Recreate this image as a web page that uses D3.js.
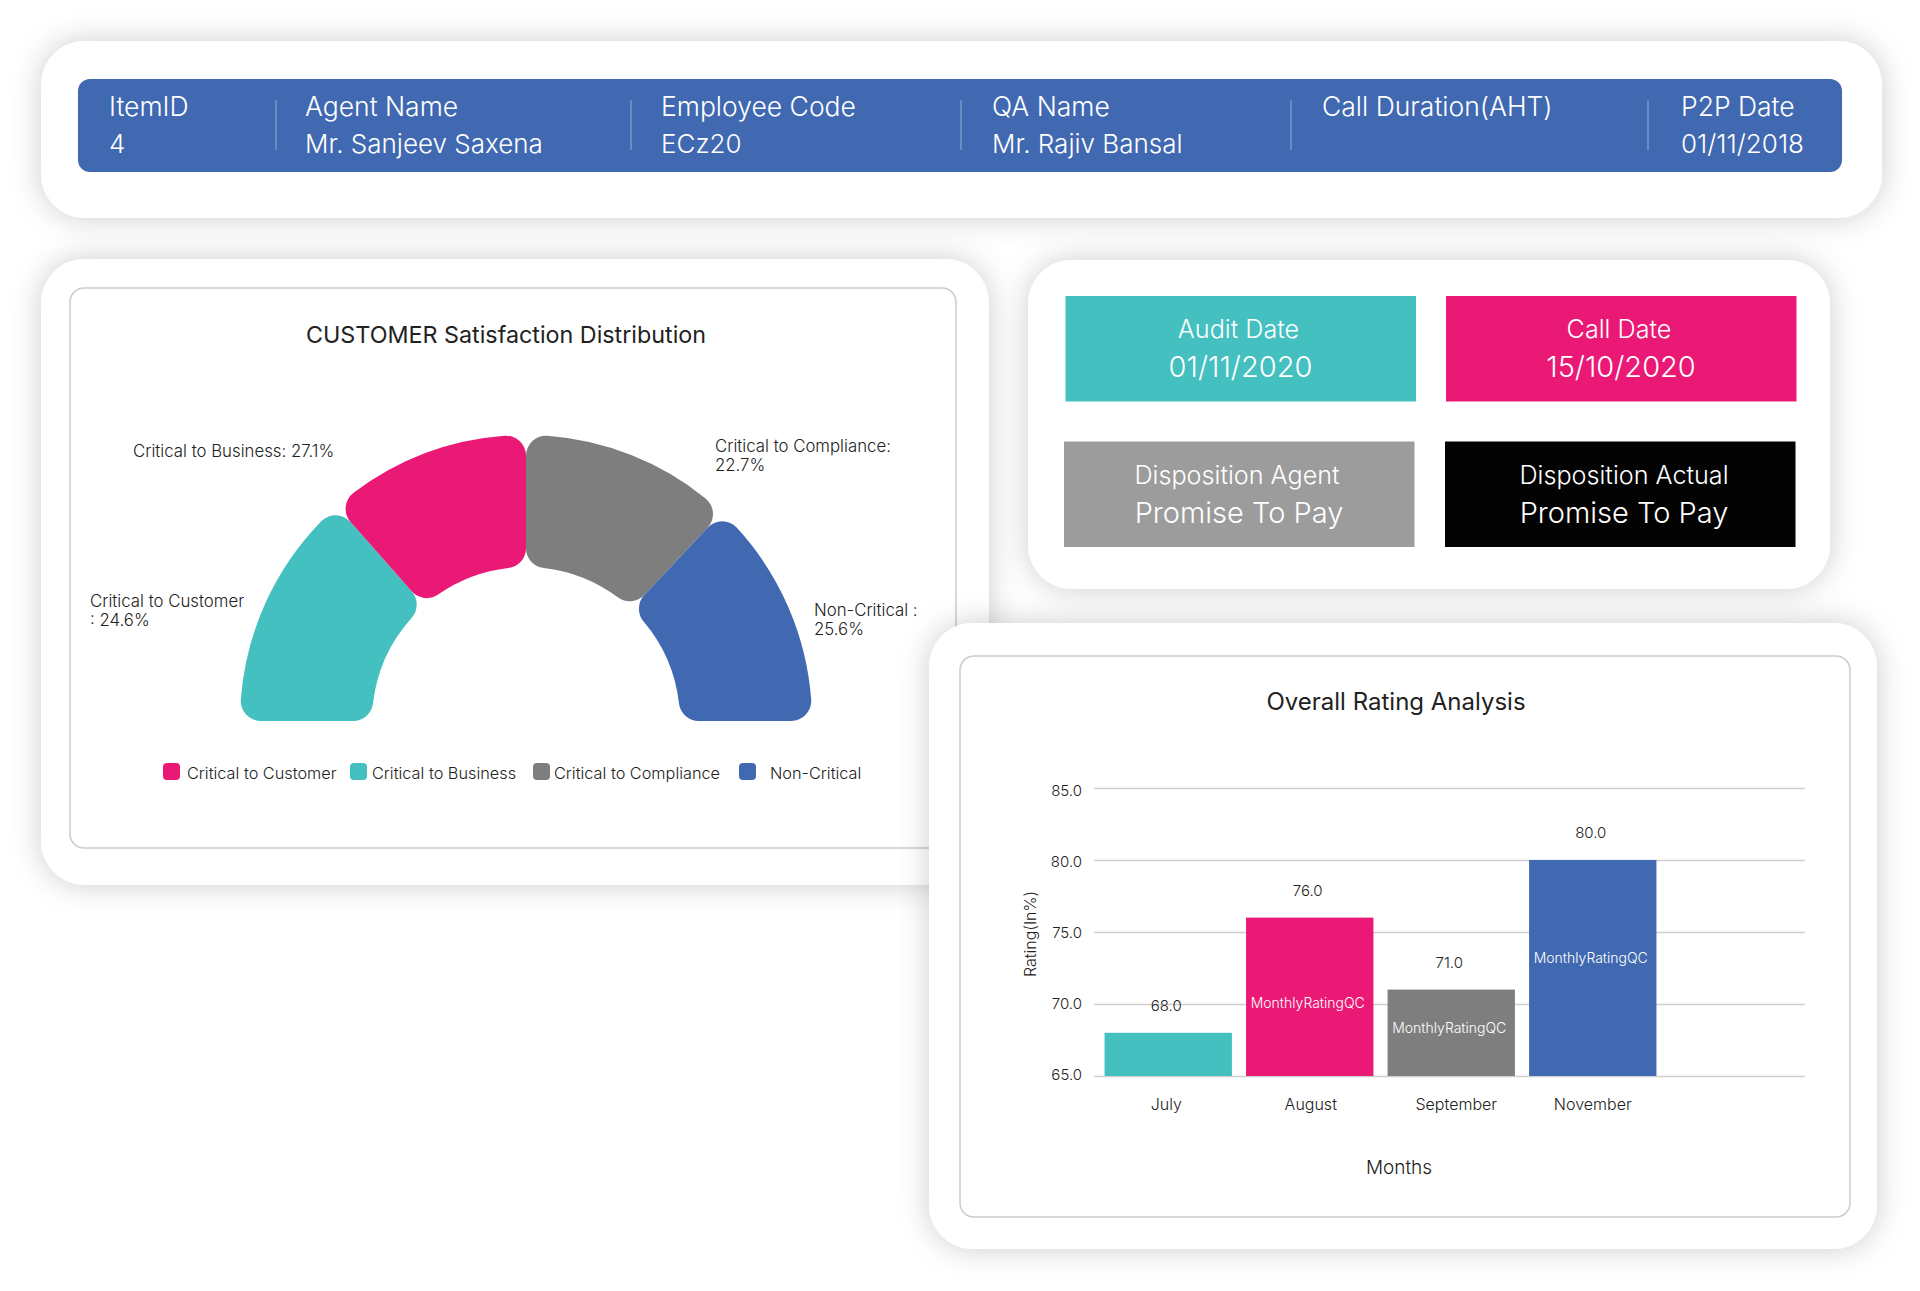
<!DOCTYPE html>
<html>
<head>
<meta charset="utf-8">
<script src="https://cdn.jsdelivr.net/npm/d3@7"></script>
<style>
  html, body { margin: 0; padding: 0; background: #fff; }
  svg { display: block; }
  text { font-family: Inter, "Open Sans", sans-serif; fill: #222; }
  .head text { fill: #fff; font-weight: 300; }
  .axis path { display: none; }
</style>
</head>
<body>
<div id="chart"></div>
<script>
// header strip
var headerLabels = ["ItemID", "Agent Name", "Employee Code", "QA Name", "Call Duration(AHT)", "P2P Date"];
var headerValues = ["4", "Mr. Sanjeev Saxena", "ECz20", "Mr. Rajiv Bansal", "", "01/11/2018"];

// date / disposition tiles
var tileLabels = ["Audit Date", "Call Date", "Disposition Agent", "Disposition Actual"];
var tileValues = ["01/11/2020", "15/10/2020", "Promise To Pay", "Promise To Pay"];

// gauge: printed percentages, and the share of the half ring each slice really takes up in the picture
var gaugeLabels = [["Critical to Customer", ": 24.6%"], ["Critical to Business: 27.1%"], ["Critical to Compliance:", "22.7%"], ["Non-Critical :", "25.6%"]];
var gaugeDrawnShare = [27, 23, 24, 26];
var legendNames = ["Critical to Customer", "Critical to Business", "Critical to Compliance", "Non-Critical"];

// bars
var months = ["July", "August", "September", "November"];
var ratings = [68, 76, 71, 80];
var ratingTicks = [65, 70, 75, 80, 85];

var teal = "#44c0c0", pink = "#e91975", gray = "#7e7e7e", blue = "#4169b1";

var svg = d3.select("#chart").append("svg")
  .attr("width", 1920)
  .attr("height", 1291);

var shadow = svg.append("defs").append("filter")
  .attr("id", "shadow")
  .attr("x", "-15%").attr("y", "-30%")
  .attr("width", "130%").attr("height", "160%");
shadow.append("feDropShadow")
  .attr("dx", 0).attr("dy", 0)
  .attr("stdDeviation", 15)
  .attr("flood-color", "#000")
  .attr("flood-opacity", 0.2);

function card(x, y, w, h) {
  svg.append("rect")
    .attr("x", x).attr("y", y)
    .attr("width", w).attr("height", h)
    .attr("rx", 44)
    .attr("fill", "#fff")
    .attr("filter", "url(#shadow)");
}

function frame(x, y, w, h) {
  svg.append("rect")
    .attr("x", x).attr("y", y)
    .attr("width", w).attr("height", h)
    .attr("rx", 14)
    .attr("fill", "none")
    .attr("stroke", "#ccc")
    .attr("stroke-width", 1.5);
}

// Header card
card(41, 41, 1841, 177);
var head = svg.append("g").attr("class", "head");
head.append("rect")
  .attr("x", 78).attr("y", 79)
  .attr("width", 1764).attr("height", 93)
  .attr("rx", 12)
  .attr("fill", blue);

var headX = [109, 305, 661, 992, 1322, 1681];
var dividerX = [276, 631, 961, 1291, 1648];

head.selectAll("line")
  .data(dividerX)
  .enter()
  .append("line")
  .attr("x1", d => d).attr("x2", d => d)
  .attr("y1", 100).attr("y2", 150)
  .attr("stroke", "#fff")
  .attr("stroke-opacity", 0.45);

head.selectAll("text.label")
  .data(headerLabels)
  .enter()
  .append("text")
  .attr("class", "label")
  .attr("x", (d, i) => headX[i])
  .attr("y", 116)
  .attr("font-size", 26.5)
  .text(d => d);

head.selectAll("text.value")
  .data(headerValues)
  .enter()
  .append("text")
  .attr("class", "value")
  .attr("x", (d, i) => headX[i])
  .attr("y", 153)
  .attr("font-size", 26)
  .text(d => d);

// Gauge card
card(41, 259, 948, 626);
frame(70, 288, 886, 560);

svg.append("text")
  .attr("x", 506).attr("y", 343)
  .attr("text-anchor", "middle")
  .attr("font-size", 23.3)
  .attr("font-weight", 400)
  .text("CUSTOMER Satisfaction Distribution");

var gauge = svg.append("g").attr("transform", "translate(526, 721)");

var pie = d3.pie()
  .sort(null)
  .startAngle(-Math.PI / 2)
  .endAngle(Math.PI / 2);

var arc = d3.arc()
  .innerRadius(154)
  .outerRadius(286)
  .cornerRadius(20);

gauge.selectAll("path")
  .data(pie(gaugeDrawnShare))
  .enter()
  .append("path")
  .attr("d", arc)
  .attr("fill", (d, i) => [teal, pink, gray, blue][i]);

// slice labels sit where the picture has them, not on a leader
var gaugeLabelX = [90, 133, 715, 814];
var gaugeLabelY = [607, 457, 452, 616];

gaugeLabels.forEach(function(lines, i) {
  lines.forEach(function(line, j) {
    svg.append("text")
      .attr("x", gaugeLabelX[i])
      .attr("y", gaugeLabelY[i] + j * 19)
      .attr("font-size", 16.8)
      .attr("font-weight", 300)
      .text(line);
  });
});

// legend colours run differently from the slices in the reference
var legendSwatchX = [163, 350, 533, 739];
var legendTextX = [187, 372, 554, 770];

svg.selectAll("rect.swatch")
  .data(legendNames)
  .enter()
  .append("rect")
  .attr("class", "swatch")
  .attr("x", (d, i) => legendSwatchX[i])
  .attr("y", 763)
  .attr("width", 17).attr("height", 17)
  .attr("rx", 4)
  .attr("fill", (d, i) => [pink, teal, gray, blue][i]);

svg.selectAll("text.legend")
  .data(legendNames)
  .enter()
  .append("text")
  .attr("class", "legend")
  .attr("x", (d, i) => legendTextX[i])
  .attr("y", 779)
  .attr("font-size", 16.3)
  .attr("font-weight", 300)
  .text(d => d);

// Tiles card
card(1028, 260, 802, 329);
var tileX = [1065.5, 1446, 1064, 1445];
var tileY = [296, 296, 441.5, 441.5];
var tileFill = [teal, pink, "#9c9c9c", "#030303"];
// text centre inside each tile, the black one runs right of the others
var tileLabelShift = [173, 173, 173, 179];
var tileValueShift = [175, 175, 175, 179];

var tiles = svg.append("g").attr("class", "head");
tileLabels.forEach(function(label, i) {
  tiles.append("rect")
    .attr("x", tileX[i]).attr("y", tileY[i])
    .attr("width", 350.5).attr("height", 105.5)
    .attr("fill", tileFill[i]);
  tiles.append("text")
    .attr("x", tileX[i] + tileLabelShift[i]).attr("y", tileY[i] + 42)
    .attr("text-anchor", "middle")
    .attr("font-size", 25.2)
    .text(label);
  tiles.append("text")
    .attr("x", tileX[i] + tileValueShift[i]).attr("y", tileY[i] + 81)
    .attr("text-anchor", "middle")
    .attr("font-size", 29)
    .text(tileValues[i]);
});

// Bar card
card(929, 623, 948, 626);
frame(960, 656, 890, 561);

svg.append("text")
  .attr("x", 1396).attr("y", 710)
  .attr("text-anchor", "middle")
  .attr("font-size", 24)
  .text("Overall Rating Analysis");

var yScale = d3.scaleLinear()
  .domain([65, 85])
  .range([1076, 788]);

// tick labels drift from their gridlines in the reference
var tickLabelY = d3.scaleLinear()
  .domain([65, 85])
  .range([1079, 795]);

var xScale = d3.scaleBand()
  .domain(months)
  .range([1097.5, 1663.5])
  .paddingInner(0.1)
  .paddingOuter(0.05);

var yAxis = svg.append("g")
  .attr("class", "axis")
  .attr("transform", "translate(1094, 0)")
  .call(d3.axisLeft(yScale).tickValues(ratingTicks).tickFormat(d3.format(".1f")).tickSize(-711).tickPadding(12));

yAxis.selectAll("line").attr("stroke", "#cfcfcf").attr("stroke-width", 1.5);
yAxis.selectAll("text")
  .attr("dy", 0)
  .attr("y", d => tickLabelY(d) - yScale(d))
  .attr("font-size", 15)
  .attr("font-weight", 300)
  .attr("font-family", null)
  .style("fill", "#222");

svg.selectAll("rect.bar")
  .data(ratings)
  .enter()
  .append("rect")
  .attr("class", "bar")
  .attr("x", (d, i) => xScale(months[i]))
  .attr("y", d => yScale(d))
  .attr("width", xScale.bandwidth())
  .attr("height", d => yScale(65) - yScale(d))
  .attr("fill", (d, i) => [teal, pink, gray, blue][i]);

svg.selectAll("text.rating")
  .data(ratings)
  .enter()
  .append("text")
  .attr("class", "rating")
  .attr("x", (d, i) => xScale(months[i]) + xScale.bandwidth() / 2 - 2)
  .attr("y", d => yScale(d) - 22)
  .attr("text-anchor", "middle")
  .attr("font-size", 15)
  .attr("font-weight", 300)
  .text(d3.format(".1f"));

// July's bar is too short to carry this label
var innerDrop = [null, 90, 43, 103];
ratings.forEach(function(r, i) {
  if (innerDrop[i] === null) return;
  svg.append("text")
    .attr("x", xScale(months[i]) + xScale.bandwidth() / 2 - 2)
    .attr("y", yScale(r) + innerDrop[i])
    .attr("text-anchor", "middle")
    .attr("font-size", 14)
    .attr("font-weight", 300)
    .style("fill", "#fff")
    .text("MonthlyRatingQC");
});

var xAxis = svg.append("g")
  .attr("class", "axis")
  .attr("transform", "translate(0, 1076)")
  .call(d3.axisBottom(xScale).tickSize(0).tickPadding(23));

// month labels do not sit quite centred under their bars
var monthNudge = [-2, 1, 5, 0];
xAxis.selectAll("text")
  .attr("x", (d, i) => monthNudge[i])
  .attr("font-size", 16)
  .attr("font-weight", 300)
  .style("fill", "#222");

svg.append("text")
  .attr("transform", "translate(1036, 934) rotate(-90)")
  .attr("text-anchor", "middle")
  .attr("font-size", 16)
  .attr("font-weight", 300)
  .text("Rating(In%)");

svg.append("text")
  .attr("x", 1399).attr("y", 1174)
  .attr("text-anchor", "middle")
  .attr("font-size", 19)
  .attr("font-weight", 300)
  .text("Months");
</script>
</body>
</html>
